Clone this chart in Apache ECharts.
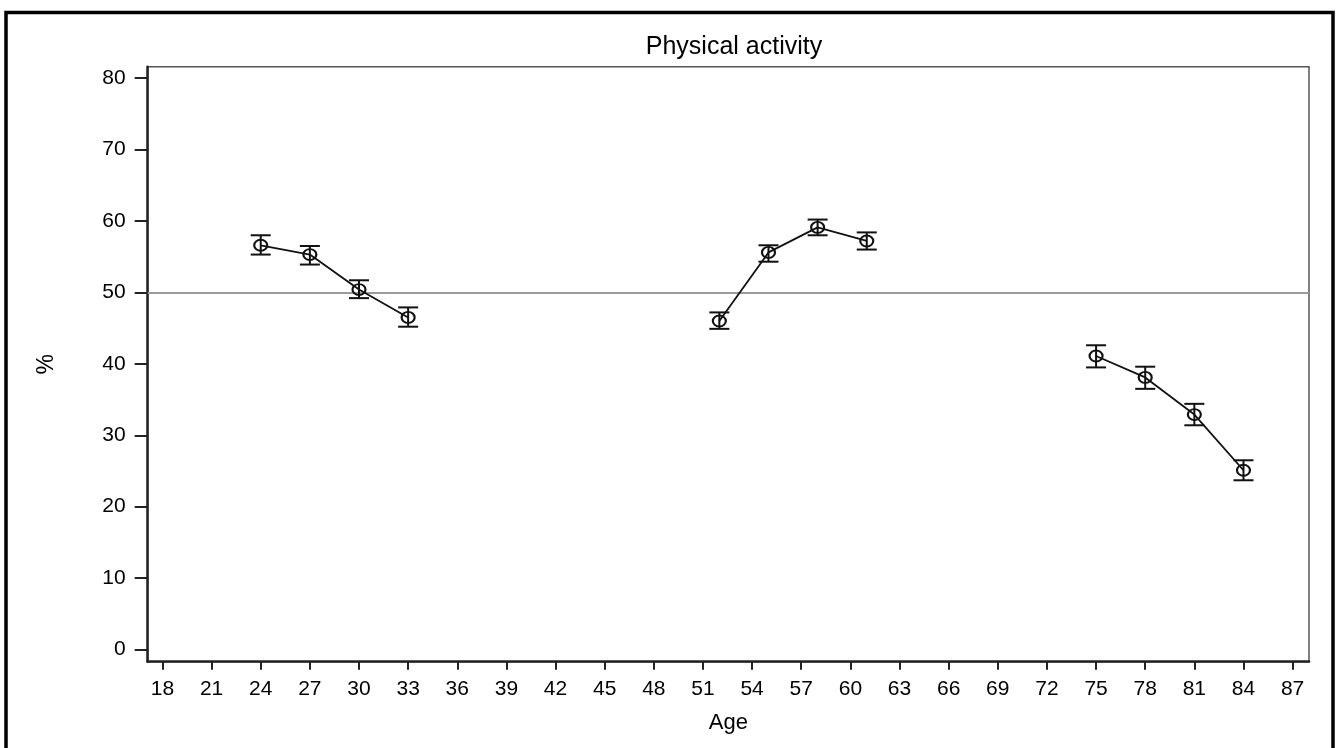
<!DOCTYPE html>
<html>
<head>
<meta charset="utf-8">
<title>Physical activity</title>
<script src="https://cdn.jsdelivr.net/npm/echarts@6/dist/echarts.min.js"></script>
<style>
  html, body { margin: 0; padding: 0; background: #fff; }
  #chart { width: 1338px; height: 748px; }
</style>
</head>
<body>
<div id="chart"></div>
<script>
// Age groups (three cohorts) and estimated percentages with 95% CI
const ages   = [24, 27, 30, 33, 52, 55, 58, 61, 75, 78, 81, 84];
const pct    = [56.6, 55.3, 50.4, 46.5, 46.0, 55.6, 59.1, 57.2, 41.1, 38.1, 32.9, 25.1];
const lower  = [55.3, 53.9, 49.2, 45.2, 44.9, 54.3, 58.0, 56.0, 39.5, 36.5, 31.4, 23.7];
const upper  = [58.0, 56.5, 51.7, 47.9, 47.2, 56.6, 60.2, 58.4, 42.6, 39.6, 34.4, 26.5];
const cohortSizes = [4, 4, 4];
const xTicks = [18, 21, 24, 27, 30, 33, 36, 39, 42, 45, 48, 51, 54, 57, 60, 63, 66, 69, 72, 75, 78, 81, 84, 87];
const yTicks = [0, 10, 20, 30, 40, 50, 60, 70, 80];
const refLevel = 50;

const FONT = "'Liberation Sans', Arial, sans-serif";

// split the points into one connected line per cohort
const cohortLines = [];
let start = 0;
cohortSizes.forEach(function (n) {
  const pts = [];
  for (let i = start; i < start + n; i++) pts.push([ages[i], pct[i]]);
  cohortLines.push(pts);
  start += n;
});

const ciData = ages.map(function (a, i) { return [a, lower[i], upper[i]]; });

const chart = echarts.init(document.getElementById('chart'), null, { renderer: 'canvas' });

const series = [];

// confidence interval bars with caps
series.push({
  type: 'custom',
  name: 'CI',
  data: ciData,
  encode: { x: 0, y: [1, 2] },
  z: 3,
  renderItem: function (params, api) {
    const x = api.value(0);
    const lo = api.coord([x, api.value(1)]);
    const hi = api.coord([x, api.value(2)]);
    const half = 10;
    const style = { stroke: '#111', lineWidth: 2, fill: null };
    return {
      type: 'group',
      children: [
        { type: 'line', shape: { x1: lo[0], y1: lo[1], x2: hi[0], y2: hi[1] }, style: style },
        { type: 'line', shape: { x1: lo[0] - half, y1: lo[1], x2: lo[0] + half, y2: lo[1] }, style: style },
        { type: 'line', shape: { x1: hi[0] - half, y1: hi[1], x2: hi[0] + half, y2: hi[1] }, style: style }
      ]
    };
  }
});

cohortLines.forEach(function (pts, k) {
  const s = {
    type: 'line',
    data: pts,
    z: 4,
    symbol: 'circle',
    symbolSize: [13, 11],
    lineStyle: { color: '#111', width: 1.8 },
    itemStyle: { color: 'rgba(0,0,0,0)', borderColor: '#111', borderWidth: 2 },
    emphasis: { disabled: true },
    animation: false
  };
  if (k === 0) {
    s.markLine = {
      silent: true,
      symbol: 'none',
      label: { show: false },
      lineStyle: { color: '#9a9a9a', width: 2, type: 'solid' },
      data: [{ yAxis: refLevel }],
      z: 2
    };
  }
  series.push(s);
});

chart.setOption({
  backgroundColor: '#fff',
  animation: false,
  title: {
    text: 'Physical activity',
    left: 729,
    textAlign: 'center',
    top: 30,
    textStyle: { fontFamily: FONT, fontSize: 25, fontWeight: 'normal', color: '#000' }
  },
  grid: {
    left: 147.7,
    right: 29,
    top: 66.7,
    bottom: 86.3,
    show: true,
    borderColor: '#555',
    borderWidth: 1.5,
    backgroundColor: 'transparent'
  },
  xAxis: {
    type: 'value',
    min: 17.1,
    max: 88,
    name: 'Age',
    nameLocation: 'middle',
    nameGap: 50,
    nameTextStyle: { fontFamily: FONT, fontSize: 22, color: '#000' },
    splitLine: { show: false },
    axisLine: { show: true, onZero: false, lineStyle: { color: '#222', width: 2.5 } },
    axisTick: { show: true, length: 8, customValues: xTicks, lineStyle: { color: '#222', width: 2 } },
    axisLabel: { customValues: xTicks, margin: 17, fontFamily: FONT, fontSize: 21, color: '#000' }
  },
  yAxis: {
    type: 'value',
    min: -1.7,
    max: 81.6,
    name: '%',
    nameLocation: 'middle',
    nameRotate: 90,
    nameGap: 90,
    nameTextStyle: { fontFamily: FONT, fontSize: 23, color: '#000' },
    splitLine: { show: false },
    axisLine: { show: true, onZero: false, lineStyle: { color: '#222', width: 2.5 } },
    axisTick: { show: true, length: 13, customValues: yTicks, lineStyle: { color: '#222', width: 2 } },
    axisLabel: { customValues: yTicks, margin: 22, fontFamily: FONT, fontSize: 21, color: '#000' }
  },
  graphic: [
    {
      type: 'rect',
      silent: true,
      z: 100,
      shape: { x: 6, y: 12.5, width: 1327, height: 800 },
      style: { fill: null, stroke: '#000', lineWidth: 3.5 }
    }
  ],
  series: series
});
</script>
</body>
</html>
